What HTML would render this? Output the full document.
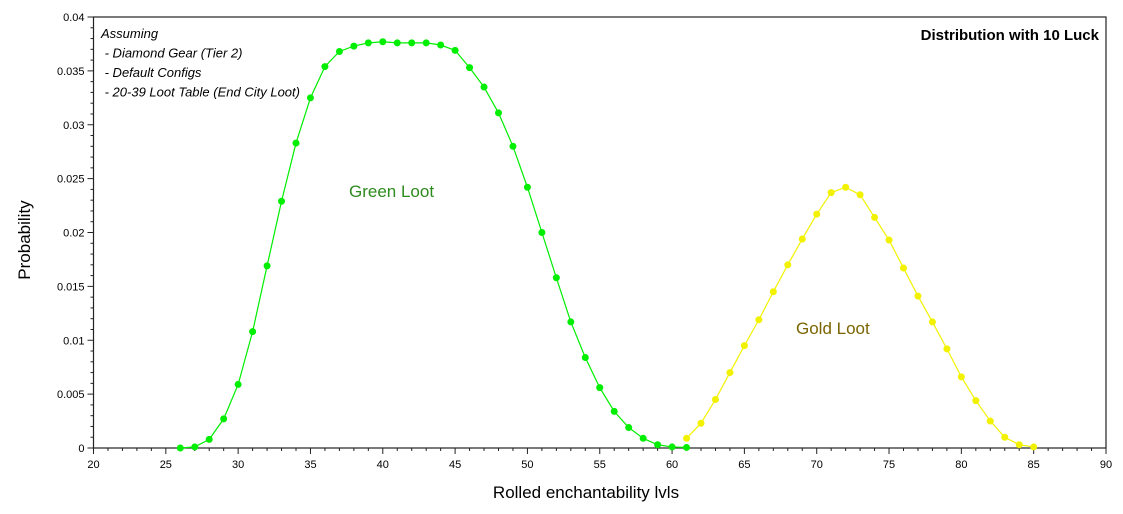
<!DOCTYPE html>
<html><head><meta charset="utf-8"><style>
body{margin:0;background:#fff;width:1123px;height:509px;overflow:hidden}
svg text{font-family:"Liberation Sans",sans-serif}
</style></head><body>
<svg id="chart" width="1123" height="509" xmlns="http://www.w3.org/2000/svg"></svg>
<script>
const greenX=[26,27,28,29,30,31,32,33,34,35,36,37,38,39,40,41,42,43,44,45,46,47,48,49,50,51,52,53,54,55,56,57,58,59,60,61];
const greenY=[0,0.0001,0.0008,0.0027,0.0059,0.0108,0.0169,0.0229,0.0283,0.0325,0.0354,0.0368,0.0373,0.0376,0.0377,0.0376,0.0376,0.0376,0.0374,0.0369,0.0353,0.0335,0.0311,0.0280,0.0242,0.0200,0.0158,0.0117,0.0084,0.0056,0.0034,0.0019,0.0009,0.0003,0.0001,0.00005];
const goldX=[61,62,63,64,65,66,67,68,69,70,71,72,73,74,75,76,77,78,79,80,81,82,83,84,85];
const goldY=[0.0009,0.0023,0.0045,0.0070,0.0095,0.0119,0.0145,0.0170,0.0194,0.0217,0.0237,0.0242,0.0235,0.0214,0.0193,0.0167,0.0141,0.0117,0.0092,0.0066,0.0044,0.0025,0.0010,0.0003,0.0001];
const xTicks=[20,25,30,35,40,45,50,55,60,65,70,75,80,85,90];
const yTicks=[0,0.005,0.01,0.015,0.02,0.025,0.03,0.035,0.04];
const yTickLabels=["0","0.005","0.01","0.015","0.02","0.025","0.03","0.035","0.04"];

const L=93.5,R=1106,T=17,B=448;
const sx=v=>L+(v-20)/70*(R-L);
const sy=v=>B-v/0.04*(B-T);
const svg=document.getElementById('chart');
const NS='http://www.w3.org/2000/svg';
function mk(tag,attrs,parent){const e=document.createElementNS(NS,tag);for(const k in attrs)e.setAttribute(k,attrs[k]);(parent||svg).appendChild(e);return e;}

const frame=mk('rect',{x:L,y:T,width:R-L,height:B-T,fill:'#fff',stroke:'#222','stroke-width':1.2});



const xg=mk('g',{});


for(let v=20;v<=90;v++){const major=v%5===0;mk('line',{x1:sx(v),x2:sx(v),y1:B,y2:B+(major?6:3),stroke:'#222'},xg);}
xTicks.forEach(v=>{const t=mk('text',{x:sx(v),y:B+20,'text-anchor':'middle','font-size':11,fill:'#000'},xg);t.textContent=v;

});
const yg=mk('g',{});


for(let i=0;i<=40;i++){const v=i*0.001;const major=i%5===0;mk('line',{x1:L,x2:L-(major?6:3),y1:sy(v),y2:sy(v),stroke:'#222'},yg);}
yTicks.forEach((v,i)=>{const t=mk('text',{x:L-9,y:sy(v)+4,'text-anchor':'end','font-size':11,fill:'#000'},yg);t.textContent=yTickLabels[i];

});

function series(xs,ys,color,name){
  const g=mk('g',{});
  
  
  mk('polyline',{points:xs.map((x,i)=>sx(x)+','+sy(ys[i])).join(' '),fill:'none',stroke:color,'stroke-width':1.2},g);
  xs.forEach((x,i)=>{const c=mk('circle',{cx:sx(x),cy:sy(ys[i]),r:3.5,fill:color},g);
    
    });
}
series(greenX,greenY,'#00ee00','green-loot-series');
series(goldX,goldY,'#f2f200','gold-loot-series');

function txt(x,y,s,attrs,name){const t=mk('text',Object.assign({x:x,y:y},attrs));t.textContent=s;
  
  return t;}
txt(349,197,'Green Loot',{'font-size':17,fill:'#2e8b1e'},'green-loot-label');
txt(796,334,'Gold Loot',{'font-size':17,fill:'#7a6400'},'gold-loot-label');
txt(1099,40,'Distribution with 10 Luck',{'font-size':15,'font-weight':'bold','text-anchor':'end',fill:'#000'},'chart-title');
const notes=['Assuming',' - Diamond Gear (Tier 2)',' - Default Configs',' - 20-39 Loot Table (End City Loot)'];
notes.forEach((s,i)=>{txt(101,38+i*19.5,s,{'font-size':13,'font-style':'italic',fill:'#000',style:'white-space:pre'},'assumptions-note');});
txt(586,498,'Rolled enchantability lvls',{'font-size':17,'text-anchor':'middle',fill:'#000'},'x-axis-title');
txt(30,240,'Probability',{'font-size':17,'text-anchor':'middle',fill:'#000',transform:'rotate(-90 30 240)'},'y-axis-title');
</script>
</body></html>
